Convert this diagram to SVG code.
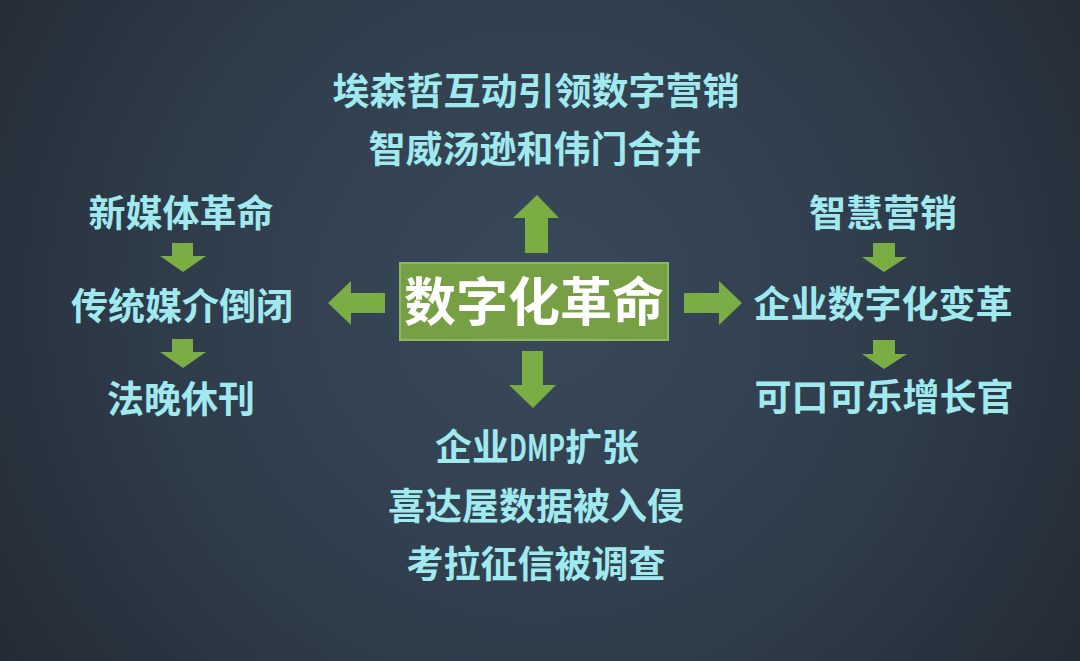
<svg xmlns="http://www.w3.org/2000/svg" width="1080" height="661" viewBox="0 0 1080 661">
<defs>
<radialGradient id="bg" cx="540" cy="300" r="720" gradientUnits="userSpaceOnUse">
<stop offset="0" stop-color="#3a4a5b"/>
<stop offset="0.55" stop-color="#2e3b49"/>
<stop offset="1" stop-color="#21272f"/>
</radialGradient>
<style>
.t{font-family:"Noto Sans CJK SC","Noto Sans",sans-serif;font-size:37px;font-weight:bold;fill:#a0e9ef;text-anchor:middle}
.a{fill:#7aad44}
.main{font-family:"Noto Sans CJK SC","Noto Sans",sans-serif;font-size:52px;font-weight:bold;fill:#ffffff;text-anchor:middle}
</style>
</defs>
<rect width="1080" height="661" fill="url(#bg)"/>
<g id="center">
<rect x="400" y="263" width="268" height="77" fill="#76a043" stroke="#8cb860" stroke-width="2"/>
<text class="main" x="534" y="321">数字化革命</text>
</g>
<g id="top">
<text class="t" x="536" y="105">埃森哲互动引领数字营销</text>
<text class="t" x="535" y="163">智威汤逊和伟门合并</text>
</g>
<g id="left">
<text class="t" x="181" y="227">新媒体革命</text>
<text class="t" x="182" y="320">传统媒介倒闭</text>
<text class="t" x="181" y="413">法晚休刊</text>
</g>
<g id="right">
<text class="t" x="883" y="227">智慧营销</text>
<text class="t" x="883" y="318">企业数字化变革</text>
<text class="t" x="884" y="411">可口可乐增长官</text>
</g>
<g id="bottom">
<text class="t" x="435" y="461" style="text-anchor:start">企业<tspan textLength="56" lengthAdjust="spacingAndGlyphs">DMP</tspan>扩张</text>
<text class="t" x="536" y="520">喜达屋数据被入侵</text>
<text class="t" x="536" y="578">考拉征信被调查</text>
</g>
<g id="connectors">
<polygon class="a" points="537,195 559,218 548,218 548,253 525,253 525,218 513,218"/>
<polygon class="a" points="328,303 351,281 351,293 385,293 385,313 351,313 351,325"/>
<polygon class="a" points="742,303 719,281 719,293 684,293 684,313 719,313 719,325"/>
<polygon class="a" points="533,408 556,385 543,385 543,351 522,351 522,385 509,385"/>
<polygon class="a" points="183,272 206,256 193,256 193,243 172,243 172,256 160,256"/>
<polygon class="a" points="183,368 206,352 193,352 193,339 172,339 172,352 160,352"/>
<polygon class="a" points="884,272 907,257 895,257 895,243 873,243 873,257 862,257"/>
<polygon class="a" points="884,369 907,354 895,354 895,340 873,340 873,354 862,354"/>
</g>
</svg>
